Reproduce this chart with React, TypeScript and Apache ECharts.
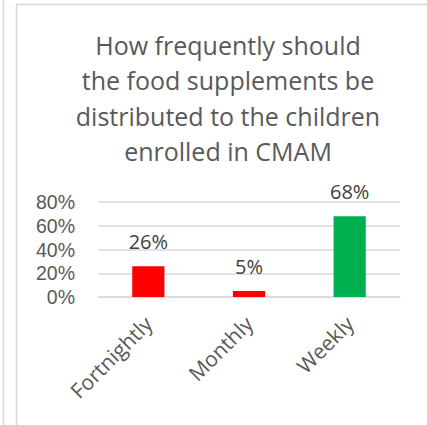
import React, { useEffect, useRef } from "react";
import * as echarts from "echarts";

const titleText = "How frequently should\nthe food supplements be\ndistributed to the children\nenrolled in CMAM";
const categories = ["Fortnightly", "Monthly", "Weekly"];
const values = [26, 5, 68];
const barColors = ["#FF0000", "#FF0000", "#00B050"];
const yTicks = [0, 20, 40, 60, 80];

const FONT = "'Open Sans', sans-serif";

export default function App() {
  const ref = useRef<HTMLDivElement>(null);
  useEffect(() => {
    if (!ref.current) return;
    const chart = echarts.init(ref.current, undefined, { renderer: "svg" });
    chart.setOption({
      animation: false,
      backgroundColor: "#ffffff",
      title: {
        text: titleText,
        left: 223,
        top: 22,
        textAlign: "center",
        textStyle: {
          fontFamily: FONT,
          fontSize: 25,
          fontWeight: "normal",
          color: "#595959",
          lineHeight: 35.5,
        },
      },
      graphic: [
        {
          type: "line",
          shape: { x1: 3.5, y1: 0, x2: 3.5, y2: 425 },
          style: { stroke: "#d9d9d9", lineWidth: 1.5 },
          silent: true,
        },
        {
          type: "rect",
          shape: { x: 16.5, y: 4.5, width: 600, height: 600 },
          style: { fill: "none", stroke: "#d9d9d9", lineWidth: 1.5 },
          silent: true,
        },
      ],
      grid: { left: 98, right: 27, top: 202, bottom: 128, containLabel: false },
      xAxis: {
        type: "category",
        data: categories,
        axisLine: { show: true, lineStyle: { color: "#d9d9d9", width: 1.5 } },
        axisTick: { show: false },
        axisLabel: {
          rotate: 45,
          interval: 0,
          margin: 23,
          fontFamily: FONT,
          fontSize: 21,
          color: "#595959",
        },
      },
      yAxis: {
        type: "value",
        min: 0,
        max: 80,
        interval: 20,
        axisLine: { show: false },
        axisTick: { show: false },
        splitLine: { show: true, lineStyle: { color: "#d9d9d9", width: 1.5 } },
        axisLabel: {
          margin: 23,
          fontFamily: "'Liberation Sans', Arial, sans-serif",
          fontSize: 19.5,
          lineHeight: 20,
          color: "#595959",
          formatter: (v: number) => (yTicks.includes(v) ? v + "%" : ""),
        },
      },
      series: [
        {
          type: "bar",
          barWidth: "32%",
          data: values.map((v, i) => ({ value: v, itemStyle: { color: barColors[i] } })),
          label: {
            show: true,
            position: "top",
            distance: 15,
            fontFamily: FONT,
            fontSize: 20,
            color: "#404040",
            formatter: (p: any) => p.value + "%",
          },
        },
      ],
    });
    return () => chart.dispose();
  }, []);
  return (
    <div
      ref={ref}
      style={{ position: "fixed", left: 0, top: 0, width: 427, height: 425 }}
    />
  );
}
